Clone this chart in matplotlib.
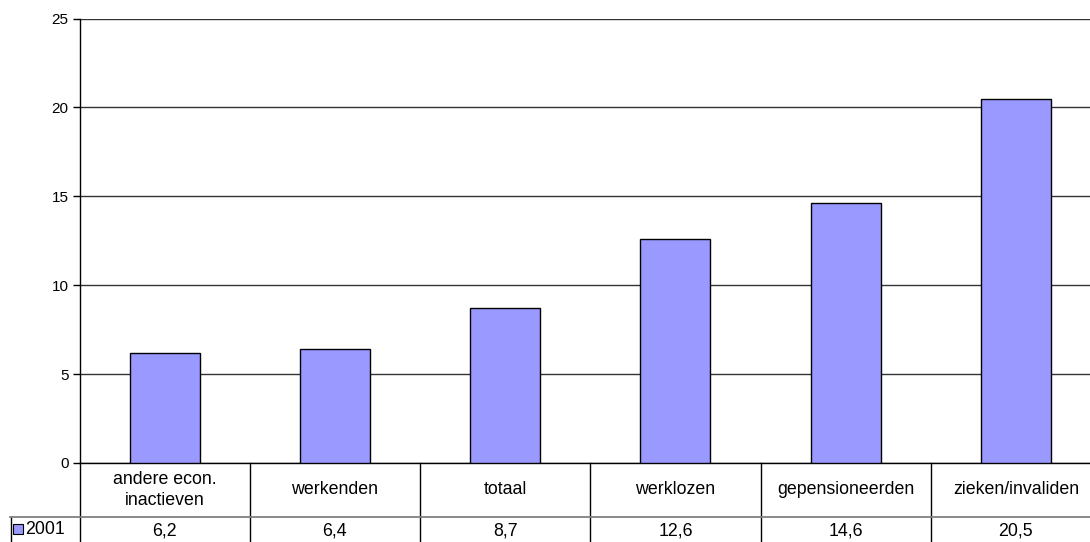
import matplotlib
matplotlib.use("Agg")
import matplotlib.pyplot as plt
from matplotlib.patches import Rectangle
from matplotlib.lines import Line2D

categories = ["andere econ.\ninactieven", "werkenden", "totaal", "werklozen",
              "gepensioneerden", "zieken/invaliden"]
values = [6.2, 6.4, 8.7, 12.6, 14.6, 20.5]
value_labels = ["6,2", "6,4", "8,7", "12,6", "14,6", "20,5"]
series_name = "2001"
yticks = [0, 5, 10, 15, 20, 25]

plt.rcParams["font.family"] = ["Liberation Sans", "DejaVu Sans"]

W, H = 1090, 542
fig = plt.figure(figsize=(W / 100, H / 100), dpi=100)
ax_left, ax_right, ax_top, ax_bot = 79.5, 1101, 18.5, 463
ax = fig.add_axes([ax_left / W, (H - ax_bot) / H, (ax_right - ax_left) / W, (ax_bot - ax_top) / H])

n = len(categories)
x = list(range(n))
ax.bar(x, values, width=0.41, color="#9999FF", edgecolor="black", linewidth=1.0, zorder=3)
ax.set_xlim(-0.5, n - 0.5)
ax.set_ylim(0, 25)
ax.set_yticks(yticks)
ax.set_yticklabels([str(t) for t in yticks], fontsize=11)
ax.yaxis.grid(True, color="#333333", linewidth=1.0, zorder=0)
ax.set_xticks([])
for s in ["top", "right"]:
    ax.spines[s].set_visible(False)
ax.spines["left"].set_linewidth(1.0)
ax.spines["bottom"].set_linewidth(1.0)
ax.tick_params(axis="y", length=5, width=1.0, pad=3, colors="black")

def fy(py):
    return (H - py) / H

def fx(px):
    return px / W

row_sep = 517
bottom_px = 542
lines = []
for i in range(n):
    xb = ax_left + (ax_right - ax_left) * i / n
    lines.append(Line2D([fx(xb), fx(xb)], [fy(ax_bot), fy(bottom_px)], color="black", lw=1.0))
lines.append(Line2D([fx(10.5), fx(10.5)], [fy(row_sep), fy(bottom_px)], color="black", lw=1.0))
lines.append(Line2D([fx(10), fx(W)], [fy(row_sep), fy(row_sep)], color="#808080", lw=1.3))
for ln in lines:
    fig.add_artist(ln)

for i in range(n):
    cx = ax_left + (ax_right - ax_left) * (i + 0.5) / n
    fig.text(fx(cx), fy((ax_bot + row_sep) / 2), categories[i], ha="center", va="center",
             fontsize=12.8, linespacing=1.3)
    fig.text(fx(cx), fy((row_sep + bottom_px) / 2 + 1), value_labels[i], ha="center", va="center",
             fontsize=12.8)

fig.add_artist(Rectangle((fx(13), fy(534)), 10 / W, 10 / H, facecolor="#9999FF",
                         edgecolor="black", lw=0.8, transform=fig.transFigure))
fig.text(fx(25), fy(530), series_name, ha="left", va="center", fontsize=12.8)

fig.savefig("out.png", dpi=100)
